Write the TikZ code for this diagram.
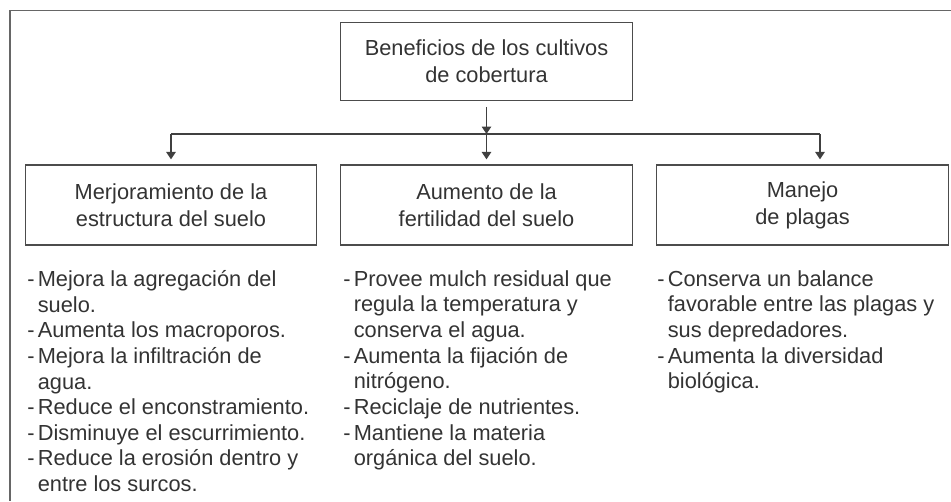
\documentclass[tikz,border=0pt]{standalone}
\usepackage{fontspec}
\setmainfont{Liberation Sans}
\usetikzlibrary{arrows.meta}

\newcommand{\guion}{\makebox[0.21cm][l]{-}}
\newcommand{\sangria}{\hspace*{0.21cm}}

\begin{document}
\begin{tikzpicture}[x=0.02cm, y=-0.02cm,
    caja/.style={draw=black!70, line width=0.7pt, minimum width=5.83cm, minimum height=1.6cm, align=center, font=\fontsize{12.4}{15.3}\selectfont, text=black!80},
    lista/.style={anchor=north west, align=left, inner sep=0pt, font=\fontsize{12.4}{14.6}\selectfont, text=black!80},
    linea/.style={draw=black!75, line width=0.7pt},
    flecha/.style={linea, -{Triangle[width=0.19cm,length=0.15cm]}},
    marco/.style={draw=black!60, line width=1.1pt}]
    \useasboundingbox (0,0) rectangle (951,501);
    \draw[marco] (951,10.5) -| (10,501);

    \node[caja, minimum height=1.55cm] (benef) at (486.5,61.5) {Beneficios de los cultivos\\de cobertura};
    \node[caja] (estruc) at (171,205) {Merjoramiento de la\\estructura del suelo};
    \node[caja] (fertil) at (486.5,205) {Aumento de la\\fertilidad del suelo};
    \node[caja] (plagas) at (802.5,205) {Manejo\\de plagas};

    \coordinate (cruce) at (486.5,134);
    \coordinate (izq) at (estruc.north |- cruce);
    \coordinate (der) at (820,134);
    \draw[flecha, shorten <=0.12cm] (benef) -- (cruce);
    \draw[linea] (izq) -- (der);
    \draw[flecha, shorten >=0.1cm] (izq) -- (estruc);
    \draw[flecha, shorten >=0.1cm] (cruce) -- (fertil);
    \draw[flecha, shorten >=0.1cm] (der) -- (der |- plagas.north);

    \node[lista] (lestruc) at (27,270) {\guion Mejora la agregación del\\
        \sangria suelo.\\
        \guion Aumenta los macroporos.\\
        \guion Mejora la infiltración de\\
        \sangria agua.\\
        \guion Reduce el enconstramiento.\\
        \guion Disminuye el escurrimiento.\\
        \guion Reduce la erosión dentro y\\
        \sangria entre los surcos.};
    \node[lista] (lfertil) at (343,270) {\guion Provee mulch residual que\\
        \sangria regula la temperatura y\\
        \sangria conserva el agua.\\
        \guion Aumenta la fijación de\\
        \sangria nitrógeno.\\
        \guion Reciclaje de nutrientes.\\
        \guion Mantiene la materia\\
        \sangria orgánica del suelo.};
    \node[lista] (lplagas) at (657,270) {\guion Conserva un balance\\
        \sangria favorable entre las plagas y\\
        \sangria sus depredadores.\\
        \guion Aumenta la diversidad\\
        \sangria biológica.};
\end{tikzpicture}
\end{document}
